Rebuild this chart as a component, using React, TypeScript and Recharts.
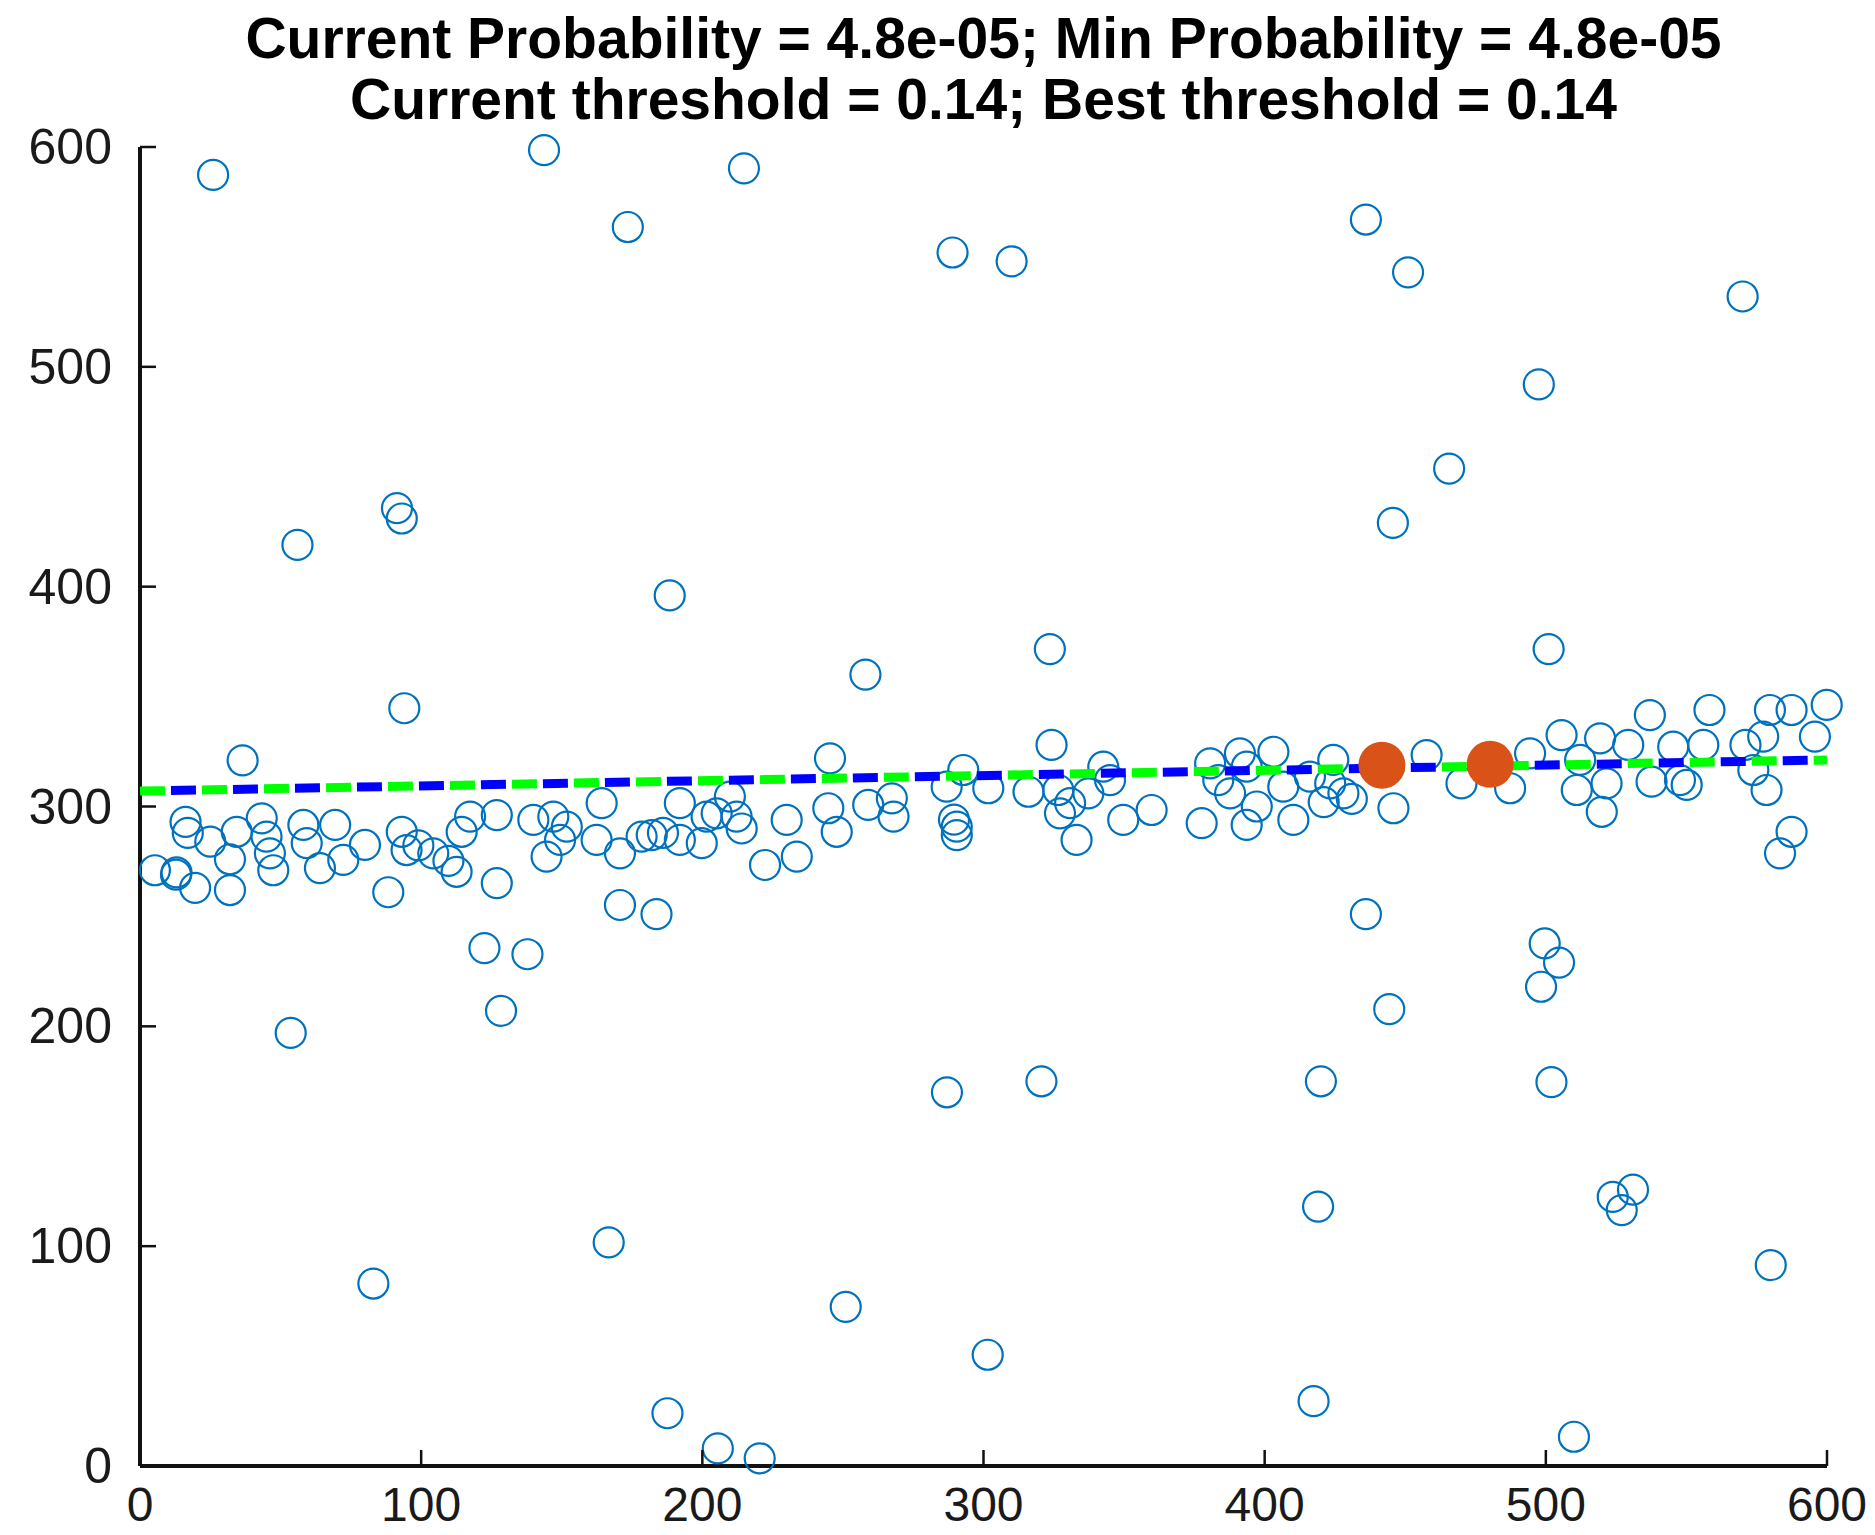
import React from "react";
import { ScatterChart, Scatter, XAxis, YAxis } from "recharts";

// points near the fitted line
const bandPts: [number, number][] = [
  [5.3, 271], [12.8, 269], [13, 270], [16.2, 293], [17, 288], [19.6, 263], [25, 284], [32, 262], [32, 276],
  [34.4, 288.5], [36.5, 321], [43.3, 294.6], [45, 286.3], [46.2, 278.7], [47.4, 271], [58.1, 291.6],
  [59.3, 283.3], [64, 272], [69.4, 291.6], [72.3, 275.7], [80, 282.5], [88.3, 261], [93.1, 288.5],
  [94.8, 280.2], [94, 344.7], [99, 282.3], [104.3, 278.7], [109.7, 275.3], [112.6, 270.3], [114.4, 288.5],
  [117.4, 295.4], [126.9, 296.1], [126.9, 265.1], [139.9, 293.9], [144.6, 277.2], [147, 295.4],
  [149.4, 284.8], [151.8, 290.8], [162.4, 284.8], [164.2, 301.5], [170.7, 278.7], [178.4, 286.3],
  [182, 287], [186, 288], [192, 301.5], [192, 284.8], [199.8, 283.3], [201.5, 295.4], [205.1, 296.9],
  [209.8, 304.5], [212.2, 295.4], [214, 290], [222.3, 273.4], [230, 293.9], [233.6, 277.2], [244.8, 299.2],
  [245.4, 321.9], [247.8, 288.5], [259, 300.7], [267.4, 303.7], [268, 295.4], [286.9, 309], [292.8, 316.6],
  [290.5, 290.8], [289.5, 294], [290.5, 287], [301.7, 308.3], [316, 306.7], [324.2, 328], [326.6, 307.5],
  [327.2, 296.9], [330.8, 301.5], [333.1, 284.8], [337.3, 306], [342.6, 318.1], [345, 312], [349.7, 293.9],
  [359.8, 298.4], [377.6, 292.4], [380.6, 319.6], [383.5, 312], [387.7, 306], [391.2, 324.2], [393.6, 318.1],
  [393.6, 291.6], [397.2, 300], [403.1, 324.9], [406.6, 309], [410.2, 293.9], [416.1, 313.6], [421, 302],
  [423.3, 310.5], [424.4, 321.2], [428, 306], [431, 303.5], [445.8, 299.2], [457.6, 323.4], [470, 310.5],
  [487.3, 308.3], [494.4, 324.2], [505.6, 332.5], [511, 307.5], [512.2, 321.2], [519.3, 331], [521.6, 310.5],
  [519.9, 297.6], [529.3, 328], [537, 341.6], [537.6, 311.3], [545.3, 327.2], [547.7, 312], [550.1, 309.8],
  [556, 328], [558.2, 343.9], [571, 328], [573.8, 316.6], [577.3, 331.8], [578.5, 307.5], [579.7, 343.9],
  [583.3, 278.7], [587.4, 343.9], [587.4, 288.5], [595.7, 331.8], [599.9, 346.2],
];

// points far from the line
const outlierPts: [number, number][] = [
  [26, 587.3], [143.7, 598.6], [214.8, 590.3], [173.5, 563.6], [289, 552], [310, 548], [436, 567],
  [451, 543], [570, 532], [497.5, 492], [465.6, 453.7], [445.6, 429], [91.4, 435.7], [93.1, 431],
  [56, 419], [188.4, 396], [323.6, 371.6], [501, 371.6], [258, 360], [436, 251], [170.7, 255.2],
  [183.7, 251], [122.5, 235.6], [137.8, 232.8], [128.4, 207], [53.6, 197], [444.3, 207.8], [499.6, 237.7],
  [504.7, 229], [498.3, 218], [287, 170], [320.6, 175], [420, 175], [502, 174.6], [419, 118],
  [523.8, 122.4], [527, 116.4], [531, 125.7], [580, 91.4], [83, 83], [166.7, 101.7], [251, 72.4],
  [301.5, 50.6], [417.4, 29.5], [187.6, 24], [205.5, 8], [220.4, 3.5], [510, 13.3],
];

// the two sampled points and the fitted line through the data
const samplePts: [number, number][] = [[441.7, 318.8], [480.2, 319.2]];
const fitLine: [number, number][] = [[0, 307], [600, 321.2]];

const xTicks = [0, 100, 200, 300, 400, 500, 600];
const yTicks = [0, 100, 200, 300, 400, 500, 600];

const titleLines = [
  "Current Probability = 4.8e-05; Min Probability = 4.8e-05",
  "Current threshold = 0.14; Best threshold = 0.14",
];

const W = 1875;
const H = 1535;
const LEFT = 140;
const RIGHT = 1827;
const TOP = 147;
const BOTTOM = 1466;
const TICK_LEN = 16;
const FONT = "'Liberation Sans', Arial, Helvetica, sans-serif";

const toObj = (pts: [number, number][]) => pts.map(([x, y]) => ({ x, y }));

const XTick = (props: any) => {
  const { x, payload } = props;
  return (
    <g>
      <line x1={x} x2={x} y1={BOTTOM} y2={BOTTOM - TICK_LEN} stroke="#111" strokeWidth={2.5} />
      <text x={x} y={1521} textAnchor="middle" fontSize={48} fontFamily={FONT} fill="#1a1a1a">
        {payload.value}
      </text>
    </g>
  );
};

const YTick = (props: any) => {
  const { y, payload } = props;
  return (
    <g>
      <line x1={LEFT} x2={LEFT + TICK_LEN} y1={y} y2={y} stroke="#111" strokeWidth={2.5} />
      <text x={112} y={y + 17} textAnchor="end" fontSize={50} fontFamily={FONT} fill="#1a1a1a">
        {payload.value}
      </text>
    </g>
  );
};

const ring = (p: any) => (
  <circle cx={p.cx} cy={p.cy} r={15} fill="none" stroke="#0072BD" strokeWidth={2.2} />
);
const dot = (p: any) => <circle cx={p.cx} cy={p.cy} r={23.5} fill="#D95319" />;
const nothing = () => <g />;

export default function App() {
  return (
    <div style={{ position: "absolute", left: 0, top: 0, width: W, height: H, background: "#fff" }}>
      <div
        style={{
          position: "absolute",
          left: 0,
          width: LEFT + RIGHT,
          top: 8,
          textAlign: "center",
          fontFamily: FONT,
          fontWeight: "bold",
          fontSize: 57,
          lineHeight: "61px",
          color: "#000",
          whiteSpace: "nowrap",
        }}
      >
        {titleLines.map((t) => (
          <div key={t}>{t}</div>
        ))}
      </div>
      <ScatterChart width={W} height={H} margin={{ top: TOP, right: W - RIGHT, bottom: 0, left: 0 }}>
        <XAxis
          type="number"
          dataKey="x"
          domain={[0, 600]}
          ticks={xTicks}
          interval={0}
          height={H - BOTTOM}
          axisLine={{ stroke: "#111", strokeWidth: 4 }}
          tickLine={false}
          tick={XTick}
        />
        <YAxis
          type="number"
          dataKey="y"
          domain={[0, 600]}
          ticks={yTicks}
          interval={0}
          width={LEFT}
          axisLine={{ stroke: "#111", strokeWidth: 4 }}
          tickLine={false}
          tick={YTick}
        />
        <Scatter data={toObj(bandPts)} shape={ring} isAnimationActive={false} />
        <Scatter data={toObj(outlierPts)} shape={ring} isAnimationActive={false} />
        <Scatter
          data={toObj(fitLine)}
          shape={nothing}
          line={{ stroke: "#00FF00", strokeWidth: 9, strokeDasharray: "25 37" }}
          isAnimationActive={false}
        />
        <Scatter
          data={toObj(fitLine)}
          shape={nothing}
          line={{ stroke: "#0000FF", strokeWidth: 9, strokeDasharray: "25 37", strokeDashoffset: 31 }}
          isAnimationActive={false}
        />
        <Scatter data={toObj(samplePts)} shape={dot} isAnimationActive={false} />
      </ScatterChart>
    </div>
  );
}
